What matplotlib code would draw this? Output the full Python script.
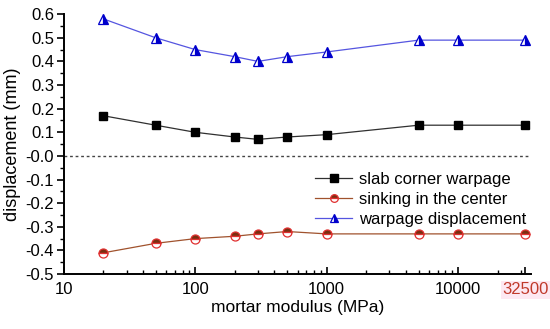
import numpy as np
import matplotlib.pyplot as plt
from matplotlib.ticker import FixedLocator, LogLocator, NullFormatter, MultipleLocator

plt.rcParams['font.family'] = ['Liberation Sans', 'DejaVu Sans']

# data
modulus = [20, 50, 100, 200, 300, 500, 1000, 5000, 10000, 32500]
corner = [0.17, 0.13, 0.10, 0.08, 0.07, 0.08, 0.09, 0.13, 0.13, 0.13]
sinking = [-0.41, -0.37, -0.35, -0.34, -0.33, -0.32, -0.33, -0.33, -0.33, -0.33]
warpage = [0.58, 0.50, 0.45, 0.42, 0.40, 0.42, 0.44, 0.49, 0.49, 0.49]
xticks = [10, 100, 1000, 10000, 32500]
xticklabels = ['10', '100', '1000', '10000', '32500']

fig = plt.figure(figsize=(5.5, 3.29), dpi=100)
ax = fig.add_axes([0.116, 0.167, 0.85, 0.79])

ax.axhline(0, color='#444444', ls=(0, (2, 2)), lw=1.0, zorder=1)

ax.plot(modulus, corner, color='#303030', lw=0.9, marker='s', ms=6,
        mfc='black', mec='black', label='slab corner warpage')
ax.plot(modulus, sinking, color='#a0522d', lw=0.9, marker='o', ms=6.5,
        fillstyle='top', mfc='#7a2e10', mfcalt='white', mec='#e03030',
        mew=0.9, label='sinking in the center')
ax.plot(modulus, warpage, color='#5555e0', lw=0.9, marker='^', ms=6.5,
        fillstyle='right', mfc='#0000cc', mfcalt='white', mec='#0000cc',
        mew=0.9, label='warpage displacement')

ax.set_xscale('log')
ax.set_xlim(10, 36000)
ax.set_ylim(-0.5, 0.6)

ax.xaxis.set_major_locator(FixedLocator(xticks))
ax.set_xticklabels(xticklabels)
ax.xaxis.set_minor_locator(LogLocator(base=10, subs=np.arange(2, 10)))
ax.xaxis.set_minor_formatter(NullFormatter())
yt = np.round(np.arange(-0.5, 0.61, 0.1), 1)
ax.set_yticks(yt)
ax.set_yticklabels(['%.1f' % v for v in yt])
ax.yaxis.set_minor_locator(MultipleLocator(0.05))

ax.tick_params(axis='x', which='major', direction='in', length=5, width=1.2,
               labelsize=12, pad=6)
ax.tick_params(axis='x', which='minor', direction='in', length=3, width=1)
ax.tick_params(axis='y', which='major', direction='out', length=5, width=1.2,
               labelsize=12, pad=2)
ax.tick_params(axis='y', which='minor', direction='out', length=3, width=1)

lab = ax.get_xticklabels()[-1]
lab.set_color('#c0392b')
lab.set_bbox(dict(facecolor='#fde8f2', edgecolor='none', pad=1))
ax.get_xticklines()[-2].set_color('#c0392b')

for s in ['top', 'right']:
    ax.spines[s].set_visible(False)
for s in ['left', 'bottom']:
    ax.spines[s].set_linewidth(1.4)

ax.set_xlabel('mortar modulus (MPa)', fontsize=12.5, labelpad=2)
ax.set_ylabel('displacement (mm)', fontsize=13, labelpad=3)

ax.legend(loc='upper right', bbox_to_anchor=(1.003, 0.42), frameon=False,
          fontsize=12, handlelength=2.2, handletextpad=0.4, labelspacing=0.3,
          borderaxespad=0, markerscale=0.85)

fig.savefig('out.png', dpi=100)
